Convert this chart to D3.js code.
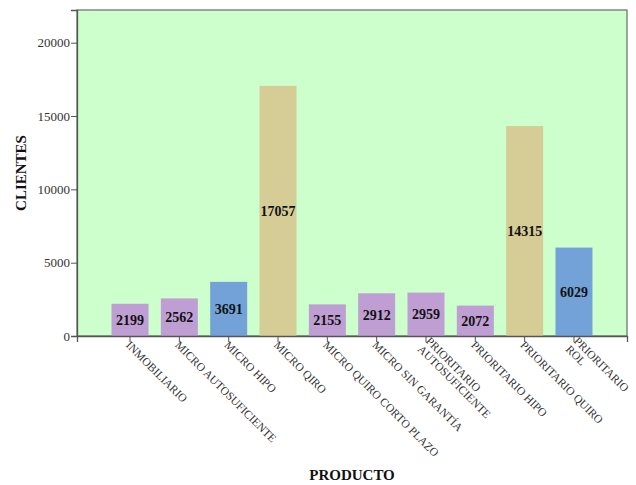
<!DOCTYPE html>
<html>
<head>
<meta charset="utf-8">
<script src="https://cdn.jsdelivr.net/npm/d3@7"></script>
<style>
  html, body { margin: 0; padding: 0; background: #ffffff; }
  svg { display: block; }
  text { font-family: "Liberation Serif", "DejaVu Serif", serif; }
</style>
</head>
<body>
<svg id="chart" width="636" height="485"></svg>
<script>
// Clients per product
const productos = [
  ["INMOBILIARIO"],
  ["MICRO AUTOSUFICIENTE"],
  ["MICRO HIPO"],
  ["MICRO QIRO"],
  ["MICRO QUIRO CORTO PLAZO"],
  ["MICRO SIN GARANTÍA"],
  ["PRIORITARIO", "AUTOSUFICIENTE"],
  ["PRIORITARIO HIPO"],
  ["PRIORITARIO QUIRO"],
  ["PRIORITARIO", "ROL"]
];
const clientes = [2199, 2562, 3691, 17057, 2155, 2912, 2959, 2072, 14315, 6029];
const grupos = ["otro", "otro", "hipo", "quiro", "otro", "otro", "otro", "otro", "quiro", "hipo"];
const yTicks = [0, 5000, 10000, 15000, 20000];

const colores = { otro: "#bf9ed3", hipo: "#72a2d8", quiro: "#d5cc96" };

const svg = d3.select("#chart");
const plot = { left: 77, right: 627, top: 10, bottom: 336 };

const keys = productos.map(p => p.join(" "));
const x = d3.scaleBand()
  .domain(keys)
  .range([plot.left, plot.right])
  .paddingInner(0.25)
  .paddingOuter(0.7);

const y = d3.scaleLinear()
  .domain([0, 22230])
  .range([plot.bottom, plot.top]);

// plot background
svg.append("rect")
  .attr("x", plot.left).attr("y", plot.top)
  .attr("width", plot.right - plot.left)
  .attr("height", plot.bottom - plot.top)
  .attr("fill", "#ccffcc")
  .attr("stroke", "#6e7b6e")
  .attr("stroke-width", 1.3);

// bars
svg.append("g").selectAll("rect")
  .data(clientes)
  .join("rect")
  .attr("x", (d, i) => x(keys[i]))
  .attr("y", d => y(d))
  .attr("width", x.bandwidth())
  .attr("height", d => y(0) - y(d))
  .attr("fill", (d, i) => colores[grupos[i]]);

// value labels centred in each bar
svg.append("g").selectAll("text")
  .data(clientes)
  .join("text")
  .attr("x", (d, i) => x(keys[i]) + x.bandwidth() / 2)
  .attr("y", d => (y(d) + y(0)) / 2)
  .attr("dy", "0.35em")
  .attr("text-anchor", "middle")
  .attr("font-size", 14)
  .attr("font-weight", "bold")
  .attr("fill", "#111")
  .text(d => d);

// y axis
const yAxis = svg.append("g")
  .attr("transform", `translate(${plot.left},0)`)
  .call(d3.axisLeft(y).tickValues(yTicks).tickSize(6).tickPadding(1).tickFormat(d3.format("d")));
yAxis.attr("font-family", null);
yAxis.select(".domain").attr("stroke", "#555").attr("stroke-width", 1.3);
yAxis.selectAll(".tick line").attr("stroke", "#555");
yAxis.selectAll(".tick text")
  .attr("font-size", 13)
  .attr("fill", "#333");

// x axis ticks
const xAxis = svg.append("g")
  .attr("transform", `translate(0,${plot.bottom})`)
  .call(d3.axisBottom(x).tickSize(6).tickFormat(""));
xAxis.select(".domain").attr("stroke", "#555").attr("stroke-width", 1.3);
xAxis.selectAll(".tick line").attr("stroke", "#555");

// rotated category labels
const lbl = svg.append("g").selectAll("text")
  .data(productos)
  .join("text")
  .attr("transform", (d, i) => `translate(${x(keys[i]) + x.bandwidth() / 2 - 2},${plot.bottom + 7}) rotate(45)`)
  .attr("font-size", 11.5)
  .attr("fill", "#333");
lbl.each(function (lines) {
  const t = d3.select(this);
  const start = lines.length === 1 ? 0.35 : -0.15;
  lines.forEach((s, k) => {
    t.append("tspan")
      .attr("x", 0)
      .attr("y", 0)
      .attr("dy", (start + k * 1.0) + "em")
      .text(s);
  });
});

// axis titles
svg.append("text")
  .attr("transform", `translate(26,${(plot.top + plot.bottom) / 2}) rotate(-90)`)
  .attr("text-anchor", "middle")
  .attr("font-size", 15)
  .attr("font-weight", "bold")
  .attr("fill", "#111")
  .text("CLIENTES");

svg.append("text")
  .attr("x", 352)
  .attr("y", 480)
  .attr("text-anchor", "middle")
  .attr("font-size", 15)
  .attr("font-weight", "bold")
  .attr("fill", "#111")
  .text("PRODUCTO");
</script>
</body>
</html>
